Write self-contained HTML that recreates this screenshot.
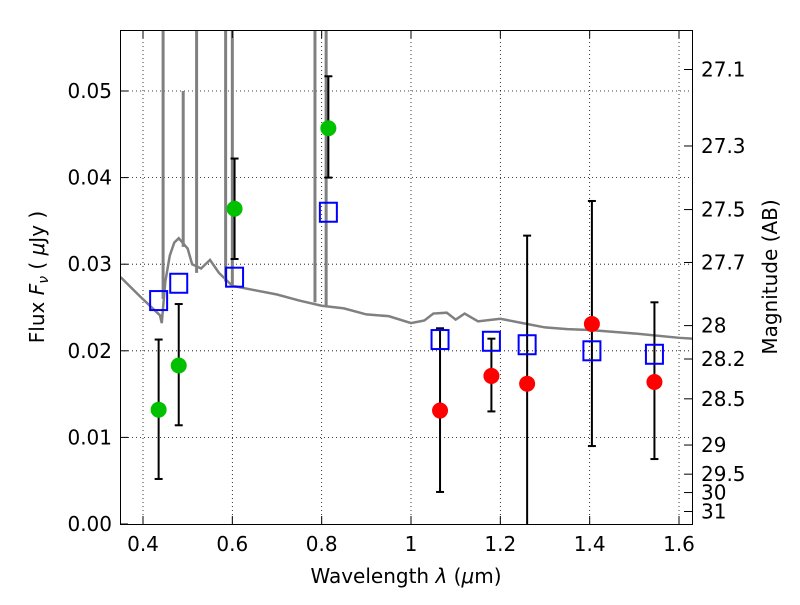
<!DOCTYPE html>
<html><head><meta charset="utf-8"><style>
body{margin:0;background:#fff}
svg text{font-family:"DejaVu Sans","Liberation Sans",sans-serif;fill:#000}
</style></head><body>
<svg id="chart" width="800" height="600" xmlns="http://www.w3.org/2000/svg">
<rect width="800" height="600" fill="#fff"/>
<g id="grid"></g>
<g id="spec"></g>
<g id="marks"></g>
<rect x="120.5" y="30.5" width="572" height="494" fill="none" stroke="#000" stroke-width="1"/>
<g id="axes"></g>
<text x="406" y="583" font-size="20" text-anchor="middle">Wavelength  <tspan font-style="italic">λ</tspan> (<tspan font-style="italic">μ</tspan>m)</text>
<text transform="translate(44,277) rotate(-90)" font-size="20" text-anchor="middle">Flux  <tspan font-style="italic">F</tspan><tspan font-style="italic" font-size="14" dy="4">ν</tspan><tspan dy="-4">  ( </tspan><tspan font-style="italic">μ</tspan>Jy )</text>
<text transform="translate(777,277) rotate(-90)" font-size="20" text-anchor="middle">Magnitude (AB)</text>
</svg>
<script>
const xTicks=[0.4,0.6,0.8,1,1.2,1.4,1.6];
const xTickLabels=["0.4","0.6","0.8","1","1.2","1.4","1.6"];
const yTicks=[0,0.01,0.02,0.03,0.04,0.05];
const yTickLabels=["0.00","0.01","0.02","0.03","0.04","0.05"];
const magTicks=[27.1,27.3,27.5,27.7,28,28.2,28.5,29,29.5,30,31];
const specWave=[0.35,0.393,0.438,0.442,0.45,0.46,0.47,0.48,0.5,0.51,0.53,0.55,0.57,0.6,0.65,0.7,0.75,0.8,0.85,0.9,0.95,1.0,1.03,1.05,1.08,1.1,1.12,1.15,1.2,1.25,1.3,1.35,1.4,1.5,1.6,1.63];
const specFlux=[0.0285,0.0263,0.0241,0.0232,0.028,0.031,0.0325,0.033,0.0318,0.030,0.0295,0.0305,0.029,0.0275,0.027,0.0265,0.0258,0.0252,0.0249,0.0242,0.024,0.0232,0.0235,0.0243,0.0244,0.0236,0.0243,0.0234,0.0237,0.0232,0.0227,0.0225,0.0224,0.022,0.0215,0.0214];
const lineWave=[0.445,0.49,0.52,0.585,0.6,0.785,0.81];
const linePeak=[0.06,0.050,0.06,0.06,0.06,0.06,0.06];
const lineBase=[0.026,0.032,0.029,0.028,0.0275,0.0256,0.0251];
const bandWave=[0.435,0.48,0.605,0.815,1.065,1.18,1.26,1.405,1.545];
const obsFlux=[0.0132,0.0183,0.0364,0.0457,0.0131,0.0171,0.0162,0.0231,0.0164];
const errLo=[0.0052,0.0114,0.0306,0.0400,0.0037,0.0130,-0.01,0.0090,0.0075];
const errHi=[0.0213,0.0254,0.0422,0.0517,0.0226,0.0214,0.0333,0.0373,0.0256];
const modelFlux=[0.0258,0.0278,0.0285,0.0360,0.0213,0.0211,0.0207,0.0200,0.0196];
const ptColor=["#00c000","#00c000","#00c000","#00c000","#ff0000","#ff0000","#ff0000","#ff0000","#ff0000"];
const X=v=>143+(v-0.4)*446.67, Y=v=>524-v*8660;
const NS="http://www.w3.org/2000/svg";
function mk(t,a,p){const e=document.createElementNS(NS,t);for(const k in a)e.setAttribute(k,a[k]);p.appendChild(e);return e;}
const grid=document.getElementById('grid'),axes=document.getElementById('axes'),spec=document.getElementById('spec'),marks=document.getElementById('marks');
xTicks.forEach((t,i)=>{const x=X(t);
 const g=mk('line',{x1:x,x2:x,y1:30,y2:524,stroke:'#000','stroke-width':0.8,'stroke-dasharray':'1,3'},grid);
 
 mk('line',{x1:x,x2:x,y1:524,y2:516,stroke:'#000'},axes);mk('line',{x1:x,x2:x,y1:30,y2:38,stroke:'#000'},axes);
 const l=mk('text',{x:x,y:551,'font-size':20,'text-anchor':'middle'},axes);l.textContent=xTickLabels[i];
 });
yTicks.forEach((t,i)=>{const y=Y(t);
 if(t>0){const g=mk('line',{x1:120,x2:692,y1:y,y2:y,stroke:'#000','stroke-width':0.8,'stroke-dasharray':'1,3'},grid);
 }
 mk('line',{x1:120,x2:128,y1:y,y2:y,stroke:'#000'},axes);
 const l=mk('text',{x:112,y:y+7,'font-size':20,'text-anchor':'end'},axes);l.textContent=yTickLabels[i];
 });
magTicks.forEach(m=>{const y=Y(Math.pow(10,(23.9-m)/2.5));
 mk('line',{x1:692,x2:684,y1:y,y2:y,stroke:'#000'},axes);
 const l=mk('text',{x:701,y:y+7,'font-size':20},axes);l.textContent=String(m);
 });
const cp=mk('clipPath',{id:'cp'},document.getElementById('chart'));mk('rect',{x:120,y:30,width:572,height:494},cp);
spec.setAttribute('clip-path','url(#cp)');marks.setAttribute('clip-path','url(#cp)');
const sp=mk('polyline',{points:specWave.map((w,i)=>X(w)+','+Y(specFlux[i])).join(' '),fill:'none',stroke:'#808080','stroke-width':2.5},spec);

lineWave.forEach((w,i)=>{const l=mk('line',{x1:X(w),x2:X(w),y1:Y(lineBase[i]),y2:Y(linePeak[i]),stroke:'#808080','stroke-width':3},spec);
 });
bandWave.forEach((w,i)=>{const x=X(w);
 const e=mk('line',{x1:x,x2:x,y1:Y(errLo[i]),y2:Y(errHi[i]),stroke:'#000','stroke-width':2},marks);
 
 mk('line',{x1:x-4,x2:x+4,y1:Y(errLo[i]),y2:Y(errLo[i]),stroke:'#000','stroke-width':2},marks);
 mk('line',{x1:x-4,x2:x+4,y1:Y(errHi[i]),y2:Y(errHi[i]),stroke:'#000','stroke-width':2},marks);});
bandWave.forEach((w,i)=>{const r=mk('rect',{x:X(w)-8.5,y:Y(modelFlux[i])-9.5,width:17,height:19,fill:'none',stroke:'#0000ff','stroke-width':2},marks);
 });
bandWave.forEach((w,i)=>{const c=mk('circle',{cx:X(w),cy:Y(obsFlux[i]),r:8,fill:ptColor[i]},marks);
 });
</script>
</body></html>
